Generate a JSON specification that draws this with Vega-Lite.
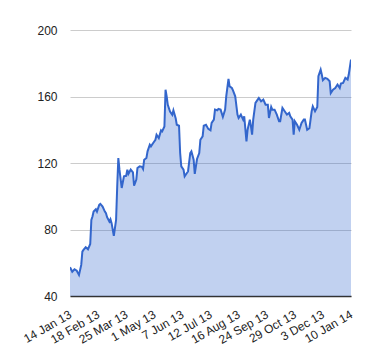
{
  "$schema": "https://vega.github.io/schema/vega-lite/v6.json",
  "autosize": {"type": "none"},
  "padding": {"left": 70, "top": 30, "right": 29, "bottom": 64},
  "width": 281,
  "height": 266,
  "background": "#ffffff",
  "config": {
    "view": {"stroke": null},
    "font": "Liberation Sans",
    "axis": {"labelFont": "Liberation Sans", "labelFontSize": 12, "labelColor": "#222222", "title": null}
  },
  "data": {
    "values": [
      {"d": 0, "v": 57.3}, {"d": 2, "v": 54.6}, {"d": 4, "v": 56.1}, {"d": 6, "v": 55.2}, {"d": 8, "v": 52.7},
      {"d": 10, "v": 58.7}, {"d": 11, "v": 66.7}, {"d": 12, "v": 67.7}, {"d": 14, "v": 69.3}, {"d": 16, "v": 68.1},
      {"d": 18, "v": 71.3}, {"d": 19, "v": 85.8}, {"d": 20, "v": 87.8}, {"d": 21, "v": 90.8}, {"d": 23, "v": 92.2},
      {"d": 24, "v": 90.8}, {"d": 26, "v": 94.8}, {"d": 27, "v": 95.4}, {"d": 29, "v": 93.8}, {"d": 31, "v": 90.8},
      {"d": 32, "v": 89.8}, {"d": 33, "v": 87.4}, {"d": 35, "v": 84.8}, {"d": 36, "v": 86.2}, {"d": 37, "v": 83.8},
      {"d": 39, "v": 76.2}, {"d": 41, "v": 85.8}, {"d": 42, "v": 105.9}, {"d": 43, "v": 123.0}, {"d": 44, "v": 116.0},
      {"d": 46, "v": 105.0}, {"d": 48, "v": 112.0}, {"d": 50, "v": 112.3}, {"d": 51, "v": 116.0}, {"d": 52, "v": 113.5},
      {"d": 54, "v": 116.0}, {"d": 56, "v": 114.3}, {"d": 57, "v": 106.3}, {"d": 59, "v": 110.0}, {"d": 60, "v": 117.0},
      {"d": 62, "v": 118.0}, {"d": 64, "v": 117.7}, {"d": 65, "v": 116.4}, {"d": 66, "v": 122.0}, {"d": 68, "v": 123.0},
      {"d": 69, "v": 127.0}, {"d": 71, "v": 131.0}, {"d": 72, "v": 130.0}, {"d": 74, "v": 132.0}, {"d": 76, "v": 134.0},
      {"d": 77, "v": 137.0}, {"d": 79, "v": 135.0}, {"d": 81, "v": 139.6}, {"d": 82, "v": 139.0}, {"d": 84, "v": 142.0},
      {"d": 85, "v": 164.1}, {"d": 86, "v": 160.0}, {"d": 87, "v": 155.0}, {"d": 89, "v": 151.0}, {"d": 91, "v": 149.0},
      {"d": 92, "v": 151.7}, {"d": 94, "v": 147.0}, {"d": 95, "v": 143.0}, {"d": 97, "v": 142.4}, {"d": 98, "v": 126.0},
      {"d": 99, "v": 118.0}, {"d": 101, "v": 116.0}, {"d": 102, "v": 112.0}, {"d": 104, "v": 114.0}, {"d": 105, "v": 114.9},
      {"d": 107, "v": 126.0}, {"d": 108, "v": 127.0}, {"d": 110, "v": 122.0}, {"d": 111, "v": 113.5}, {"d": 113, "v": 122.4},
      {"d": 115, "v": 126.0}, {"d": 116, "v": 134.0}, {"d": 118, "v": 136.0}, {"d": 119, "v": 142.4}, {"d": 121, "v": 143.0},
      {"d": 123, "v": 140.5}, {"d": 125, "v": 139.6}, {"d": 126, "v": 144.1}, {"d": 128, "v": 146.1}, {"d": 129, "v": 152.1},
      {"d": 131, "v": 151.7}, {"d": 132, "v": 152.5}, {"d": 134, "v": 152.1}, {"d": 136, "v": 147.7}, {"d": 138, "v": 152.1},
      {"d": 139, "v": 160.1}, {"d": 141, "v": 170.6}, {"d": 142, "v": 166.1}, {"d": 144, "v": 165.1}, {"d": 145, "v": 163.7},
      {"d": 147, "v": 160.1}, {"d": 149, "v": 149.1}, {"d": 150, "v": 147.1}, {"d": 152, "v": 149.1}, {"d": 154, "v": 146.1},
      {"d": 155, "v": 148.1}, {"d": 157, "v": 133.0}, {"d": 158, "v": 140.0}, {"d": 160, "v": 146.1}, {"d": 161, "v": 142.0},
      {"d": 162, "v": 137.0}, {"d": 163, "v": 146.1}, {"d": 165, "v": 156.1}, {"d": 167, "v": 158.1}, {"d": 168, "v": 159.1},
      {"d": 170, "v": 157.1}, {"d": 172, "v": 158.1}, {"d": 174, "v": 155.1}, {"d": 176, "v": 155.1}, {"d": 177, "v": 147.1},
      {"d": 179, "v": 153.7}, {"d": 180, "v": 152.1}, {"d": 182, "v": 152.1}, {"d": 184, "v": 149.1}, {"d": 186, "v": 145.1},
      {"d": 187, "v": 145.1}, {"d": 189, "v": 153.1}, {"d": 191, "v": 151.1}, {"d": 193, "v": 149.1}, {"d": 195, "v": 150.1},
      {"d": 196, "v": 148.1}, {"d": 198, "v": 146.1}, {"d": 199, "v": 137.0}, {"d": 200, "v": 145.1}, {"d": 202, "v": 143.0},
      {"d": 204, "v": 140.0}, {"d": 206, "v": 144.1}, {"d": 208, "v": 146.1}, {"d": 209, "v": 146.1}, {"d": 211, "v": 140.0},
      {"d": 213, "v": 141.0}, {"d": 215, "v": 151.1}, {"d": 216, "v": 154.1}, {"d": 218, "v": 151.1}, {"d": 220, "v": 153.7},
      {"d": 221, "v": 172.2}, {"d": 223, "v": 176.2}, {"d": 224, "v": 173.2}, {"d": 225, "v": 169.8}, {"d": 227, "v": 171.2},
      {"d": 229, "v": 170.6}, {"d": 231, "v": 169.2}, {"d": 232, "v": 162.1}, {"d": 234, "v": 164.1}, {"d": 236, "v": 165.1},
      {"d": 238, "v": 167.2}, {"d": 240, "v": 165.1}, {"d": 241, "v": 167.8}, {"d": 243, "v": 168.2}, {"d": 245, "v": 171.2},
      {"d": 247, "v": 170.2}, {"d": 248, "v": 173.2}, {"d": 250, "v": 182.2}
    ]
  },
  "encoding": {
    "x": {
      "field": "d",
      "type": "quantitative",
      "scale": {"domain": [0, 250], "nice": false, "zero": false},
      "axis": {
        "values": [0, 25, 50, 75, 100, 125, 150, 175, 200, 225, 250],
        "labelExpr": "['14 Jan 13','18 Feb 13','25 Mar 13','1 May 13','7 Jun 13','12 Jul 13','16 Aug 13','24 Sep 13','29 Oct 13','3 Dec 13','10 Jan 14'][round(datum.value / 25)]",
        "labelAngle": -30,
        "labelAlign": "right",
        "labelBaseline": "middle",
        "labelPadding": 17,
        "labelOverlap": false,
        "labelFlush": false,
        "ticks": false,
        "grid": false,
        "domainColor": "#333333",
        "domainWidth": 1.5
      }
    },
    "y": {
      "field": "v",
      "type": "quantitative",
      "scale": {"domain": [40, 200], "nice": false, "zero": false},
      "axis": {
        "values": [40, 80, 120, 160, 200],
        "ticks": false,
        "domain": false,
        "labelPadding": 13,
        "gridColor": "#cccccc",
        "gridWidth": 1,
        "gridOpacity": 1
      }
    }
  },
  "layer": [
    {"mark": {"type": "area", "color": "#3366cc", "opacity": 0.3, "clip": true}},
    {"mark": {"type": "line", "color": "#3366cc", "strokeWidth": 2, "clip": true}}
  ]
}
